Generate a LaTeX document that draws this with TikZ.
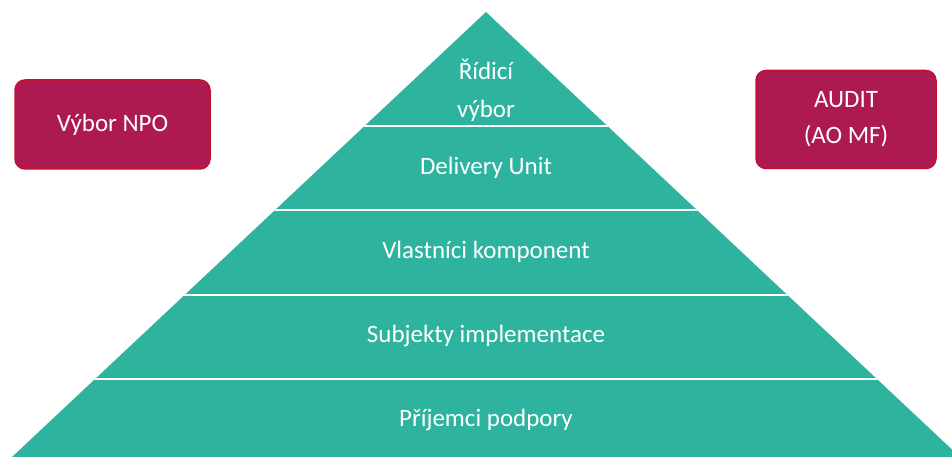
\documentclass[tikz,border=0pt]{standalone}
\usepackage{fontspec}
\setmainfont{Carlito}
\definecolor{teal1}{HTML}{2EB39F}
\definecolor{wine}{HTML}{AD1A51}
\definecolor{wineborder}{HTML}{C4102E}
\begin{document}
\begin{tikzpicture}[x=1pt,y=-1pt,
  lbl/.style={text=white,font=\fontsize{25}{38}\selectfont,align=center,inner sep=0pt},
  box/.style={fill=wine,draw=wineborder,line width=1.5pt,rounded corners=10pt,text=white,
    font=\fontsize{25}{36}\selectfont,align=center,inner sep=0pt},
  sep/.style={draw=white,line width=2.5pt}]
\useasboundingbox (0,0) rectangle (952,457);
\coordinate (apex) at (486,12);
\coordinate (bl) at (12,457);
\coordinate (br) at (960,457);
\begin{scope}
\clip (0,0) rectangle (952,457);
\fill[teal1] (bl) -- (apex) -- (br) -- cycle;
\begin{scope}
\clip (bl) -- (apex) -- (br) -- cycle;
\foreach \yy/\nm in {126/a,210/b,295/c,379/d}{
  \coordinate (sl\nm) at (0,\yy);
  \coordinate (sr\nm) at (960,\yy);
  \draw[sep] (sl\nm) -- (sr\nm);
}
\end{scope}
\end{scope}
\node[lbl] (l1) at (486,90) {Řídicí\\výbor};
\node[lbl] (l2) at (486,168) {Delivery Unit};
\node[lbl] (l3) at (486,252) {Vlastníci komponent};
\node[lbl] (l4) at (486,336) {Subjekty implementace};
\node[lbl] (l5) at (486,420) {Příjemci podpory};
\node[box,minimum width=195pt,minimum height=89pt] (npo) at (112.5,124.5) {Výbor NPO};
\node[box,minimum width=180pt,minimum height=98pt] (audit) at (846,119.5) {AUDIT\\(AO MF)};
\end{tikzpicture}
\end{document}
